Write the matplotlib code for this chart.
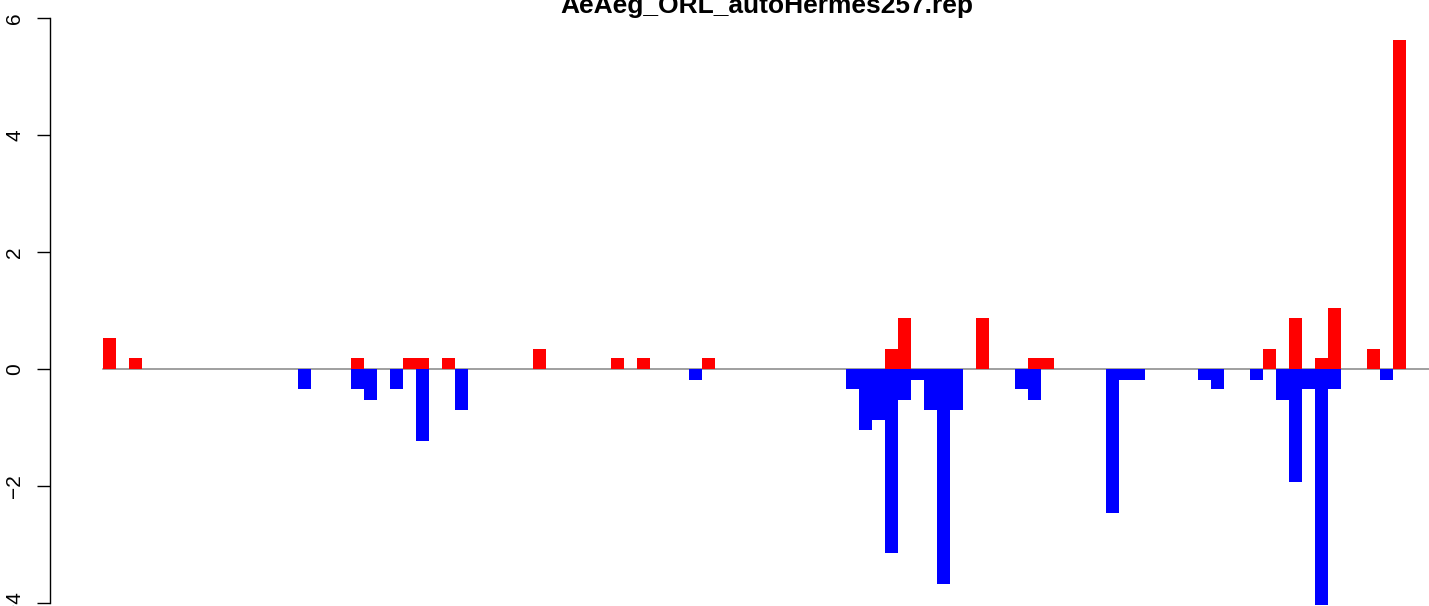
import numpy as np
import matplotlib
matplotlib.use("Agg")
import matplotlib.pyplot as plt

# ---Data (bin index along the track, score)---
title = "AeAeg_ORL_autoHermes257.rep"
n_bins = 100

red_bins = [0, 2, 19, 23, 24, 26, 33, 39, 41, 46, 60, 61, 67, 71, 72, 89, 91, 93, 94, 97, 99]
red_vals = [0.53, 0.18, 0.18, 0.18, 0.18, 0.18, 0.35, 0.18, 0.18, 0.18, 0.35, 0.88, 0.88,
            0.18, 0.18, 0.35, 0.88, 0.18, 1.05, 0.35, 5.63]

blue_bins = [15, 19, 20, 22, 24, 27, 45, 57, 58, 59, 60, 61, 62, 63, 64, 65, 70, 71, 77,
             78, 79, 84, 85, 88, 90, 91, 92, 93, 94, 98]
blue_vals = [-0.35, -0.35, -0.53, -0.35, -1.23, -0.70, -0.18, -0.35, -1.05, -0.88, -3.15,
             -0.53, -0.18, -0.70, -3.68, -0.70, -0.35, -0.53, -2.46, -0.18, -0.18, -0.18,
             -0.35, -0.18, -0.53, -1.93, -0.35, -4.03, -0.35, -0.18]

y_ticks = [-4, -2, 0, 2, 4, 6]

# ---Figure---
W, H, DPI = 1429, 606, 100
plt.rcParams["font.family"] = ["Liberation Sans", "DejaVu Sans"]
fig = plt.figure(figsize=(W / DPI, H / DPI), dpi=DPI)

left_px = 50
x0_px = 103          # left edge of bin 0
slot_px = 13.03
zero_px = 369        # y = 0, from top
unit_px = 58.5

ax = fig.add_axes([left_px / W, 0, (W - left_px) / W, 1])
ax.set_xlim(-(x0_px - left_px) / slot_px, (W - x0_px) / slot_px)
ax.set_ylim(-(H - zero_px) / unit_px, zero_px / unit_px)

ax.plot([0, n_bins + 10], [0, 0], color="#858585", lw=1.1, zorder=1)
ax.bar(red_bins, red_vals, width=1.0, align="edge", color="#FF0000", linewidth=0, zorder=2)
ax.bar(blue_bins, blue_vals, width=1.0, align="edge", color="#0000FF", linewidth=0, zorder=2)

for s in ["top", "right", "bottom"]:
    ax.spines[s].set_visible(False)
ax.spines["left"].set_bounds(-4, 6)
ax.spines["left"].set_linewidth(1.0)
ax.set_xticks([])
ax.set_yticks(y_ticks)
ax.tick_params(axis="y", length=9.4, width=1.0, pad=9, labelsize=15, labelrotation=90)
for lab in ax.get_yticklabels():
    lab.set_va("center")

fig.text(767 / W, 1 - 13 / H, title, ha="center", va="baseline",
         fontsize=19, fontweight="bold")

fig.savefig("out.png", dpi=DPI)
